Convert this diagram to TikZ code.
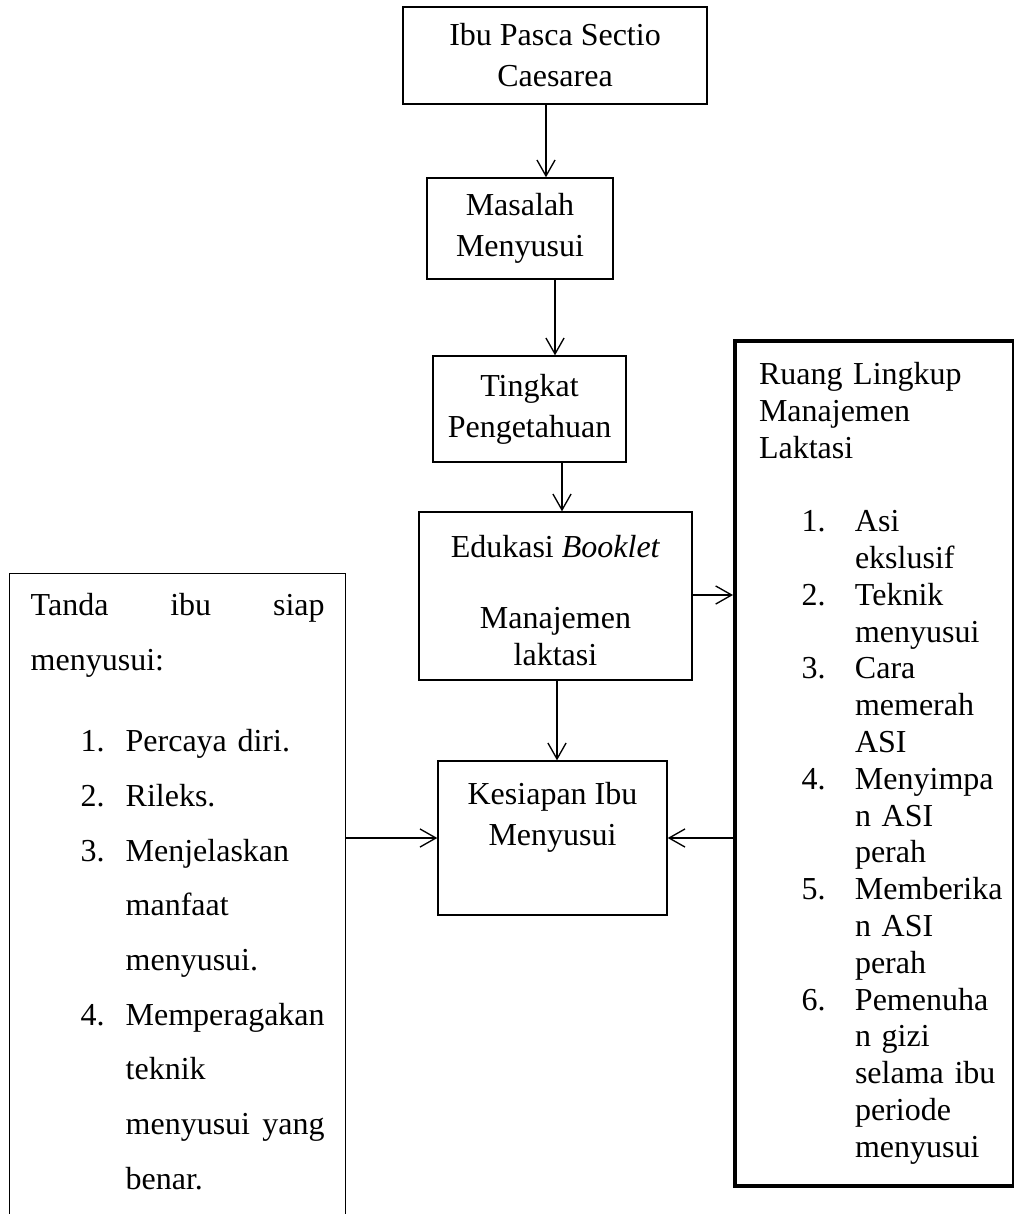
\documentclass[tikz,border=0pt]{standalone}
\usepackage{fontspec}
\setmainfont{Liberation Serif}
\usetikzlibrary{arrows.meta}
% indents of the numbered lists
\newcommand{\tnum}[1]{\hspace*{18.75pt}\makebox[16.85pt][l]{#1}}
\newcommand{\tcont}{\hspace*{35.6pt}}
\newcommand{\rnum}[1]{\hspace*{16pt}\makebox[20pt][l]{#1}}
\newcommand{\rcont}{\hspace*{36pt}}
\begin{document}
\begin{tikzpicture}[
   x=0.375pt, y=-0.375pt,
   box/.style={rectangle, draw, line width=0.5pt, align=center, inner sep=2pt, font=\fontsize{12}{15.4}\selectfont},
   listbox/.style={rectangle, draw, anchor=north west, align=left},
   arrow/.style={-{Straight Barb[length=6pt,width=6.8pt]}, line width=0.5pt}
]
\useasboundingbox (0,0) rectangle (1014,1214);
\clip (0,0) rectangle (1014,1214);

% Main flow
\node[box, minimum width=114pt, minimum height=36.4pt] (ibu) at (555,55.5) {Ibu Pasca Sectio\\Caesarea};
\node[box, minimum width=69.75pt, minimum height=37.9pt] (masalah) at (520,228.5) {Masalah\\Menyusui};
\node[box, minimum width=72.4pt, minimum height=39.75pt] (tingkat) at (529.5,409) {Tingkat\\Pengetahuan};
\node[box, minimum width=102.4pt, minimum height=63pt, font=\fontsize{12}{13.8}\selectfont] (edukasi) at (555.5,596) {\rule{0pt}{12pt}Edukasi \textit{Booklet}\\[12.8pt]Manajemen\\laktasi};
\node[box, minimum width=85.9pt, minimum height=57.75pt] (kesiapan) at (552.5,838) {Kesiapan Ibu\\Menyusui\\[3pt]~};

% Side boxes
\node[listbox, line width=0.5pt, text width=110.2pt, inner xsep=7.9pt, inner ysep=7.5pt, font=\fontsize{12}{20.5}\selectfont] (tanda) at (9,573) {%
Tanda\hfill ibu\hfill siap\\
menyusui:\\[10pt]
\tnum{1.}Percaya diri.\\
\tnum{2.}Rileks.\\
\tnum{3.}Menjelaskan\\
\tcont manfaat\\
\tcont menyusui.\\
\tnum{4.}Memperagakan\\
\tcont teknik\\
\tcont menyusui\hfill yang\\
\tcont benar.\\
~};
\node[listbox, line width=1.5pt, text width=86.6pt, inner xsep=9pt, inner ysep=8pt, font=\fontsize{12}{13.8}\selectfont] (ruang) at (733,339) {%
Ruang Lingkup\\
Manajemen\\
Laktasi\\[13.8pt]
\rnum{1.}Asi\\
\rcont ekslusif\\
\rnum{2.}Teknik\\
\rcont menyusui\\
\rnum{3.}Cara\\
\rcont memerah\\
\rcont ASI\\
\rnum{4.}Menyimpa\\
\rcont \mbox{n ASI}\\
\rcont perah\\
\rnum{5.}Memberika\\
\rcont \mbox{n ASI}\\
\rcont perah\\
\rnum{6.}Pemenuha\\
\rcont \mbox{n gizi}\\
\rcont \mbox{selama ibu}\\
\rcont periode\\
\rcont menyusui};

% Connectors
\coordinate (a1) at (546,0);
\coordinate (a2) at (555,0);
\coordinate (a3) at (562,0);
\coordinate (a4) at (557,0);
\coordinate (h1) at (0,595);
\coordinate (h2) at (0,838);
\draw[arrow] (ibu.south -| a1) -- (masalah.north -| a1);
\draw[arrow] (masalah.south -| a2) -- (tingkat.north -| a2);
\draw[arrow] (tingkat.south -| a3) -- (edukasi.north -| a3);
\draw[arrow] (edukasi.south -| a4) -- (kesiapan.north -| a4);
\draw[arrow] (edukasi.east |- h1) -- (ruang.west |- h1);
\draw[arrow] (tanda.east |- h2) -- (kesiapan.west |- h2);
\draw[arrow] (ruang.west |- h2) -- (kesiapan.east |- h2);

\end{tikzpicture}
\end{document}
